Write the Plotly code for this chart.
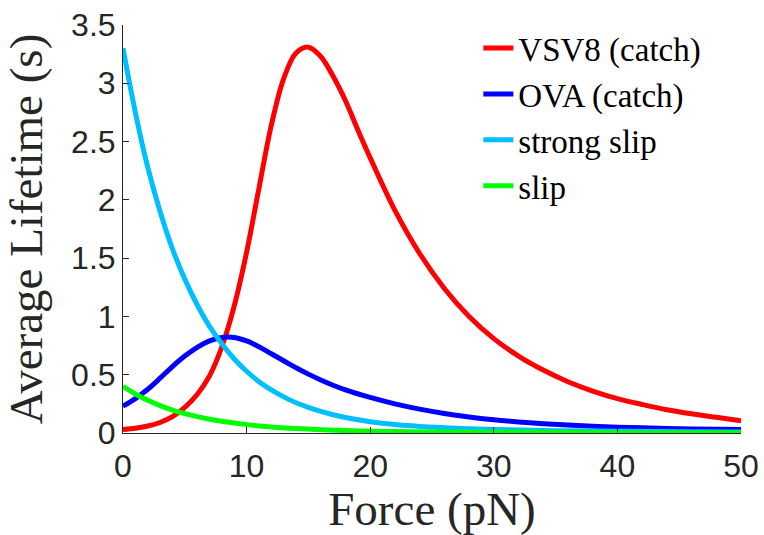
import plotly.graph_objects as go

# Force (pN) sample points and average lifetimes (s)
vsv8_force = [0, 1, 2, 3, 4, 5, 6, 7, 8, 9, 10, 11, 12, 13, 14, 15, 16, 17, 18, 19, 20,
              22, 24, 26, 28, 30, 32, 34, 36, 38, 40, 42, 44, 46, 48, 50]
vsv8_life = [0.03, 0.04, 0.06, 0.09, 0.14, 0.22, 0.33, 0.49, 0.74, 1.09, 1.55, 2.10, 2.64,
             3.04, 3.26, 3.31, 3.23, 3.06, 2.85, 2.60, 2.36, 1.91, 1.54, 1.24, 1.00, 0.81,
             0.66, 0.54, 0.44, 0.36, 0.295, 0.245, 0.20, 0.165, 0.135, 0.105]

ova_force = [0, 1, 2, 3, 4, 5, 6, 7, 8, 9, 10, 11, 12, 13, 14, 15, 16, 17, 18, 20,
             22, 24, 26, 28, 30, 32, 34, 36, 38, 40, 42, 44, 46, 48, 50]
ova_life = [0.23, 0.295, 0.375, 0.47, 0.57, 0.66, 0.735, 0.79, 0.82, 0.82, 0.79, 0.74, 0.68,
            0.62, 0.56, 0.505, 0.455, 0.41, 0.37, 0.305, 0.25, 0.205, 0.168, 0.138, 0.114,
            0.095, 0.08, 0.068, 0.058, 0.05, 0.044, 0.039, 0.035, 0.032, 0.03]

strong_force = [0, 1, 2, 3, 4, 5, 6, 7, 8, 9, 10, 11, 12, 13, 14, 15, 16, 17, 18, 20,
                22, 24, 26, 28, 30, 35, 40, 45, 50]
strong_life = [3.30, 2.75, 2.28, 1.90, 1.58, 1.32, 1.10, 0.915, 0.765, 0.635, 0.53, 0.44,
               0.37, 0.31, 0.26, 0.22, 0.185, 0.157, 0.133, 0.097, 0.072, 0.056, 0.045,
               0.036, 0.03, 0.02, 0.015, 0.011, 0.009]

slip_force = [0, 1, 2, 3, 4, 5, 6, 7, 8, 10, 12, 14, 16, 18, 20, 25, 30, 40, 50]
slip_life = [0.40, 0.335, 0.28, 0.235, 0.197, 0.166, 0.14, 0.118, 0.1, 0.072, 0.052, 0.038,
             0.028, 0.021, 0.016, 0.009, 0.006, 0.003, 0.002]

series_names = ["VSV8 (catch)", "OVA (catch)", "strong slip", "slip"]
series_colors = ["#ff0000", "#0000ff", "#00bfff", "#00ff00"]

x_ticks = [0, 10, 20, 30, 40, 50]
y_ticks = [0, 0.5, 1, 1.5, 2, 2.5, 3, 3.5]
y_tick_labels = ["0", "0.5", "1", "1.5", "2", "2.5", "3", "3.5"]

fig = go.Figure()
for xs, ys, name, color in zip(
    [vsv8_force, ova_force, strong_force, slip_force],
    [vsv8_life, ova_life, strong_life, slip_life],
    series_names, series_colors,
):
    fig.add_trace(go.Scatter(
        x=xs, y=ys, name=name, mode="lines",
        line=dict(color=color, width=5, shape="spline", smoothing=1.0),
    ))

axis_color = "#262626"
tick_font = dict(family="Liberation Sans, Arial, sans-serif", size=32, color=axis_color)
title_font = dict(family="Liberation Serif, Times New Roman, serif", size=47, color=axis_color)

fig.update_layout(
    width=764, height=535,
    margin=dict(l=123, r=23, t=25, b=102),
    paper_bgcolor="white", plot_bgcolor="white",
    showlegend=True,
    legend=dict(
        x=0.575, y=1.012, xanchor="left", yanchor="top",
        bgcolor="rgba(0,0,0,0)", borderwidth=0,
        font=dict(family="Liberation Serif, Times New Roman, serif", size=33, color="black"),
        itemwidth=30, tracegroupgap=0,
    ),
    xaxis=dict(
        range=[0, 50], tickvals=x_ticks, ticks="inside", ticklen=6, tickwidth=1,
        tickcolor=axis_color, showline=True, linecolor=axis_color, linewidth=1,
        showgrid=False, zeroline=False, tickfont=tick_font, automargin=False,
        ticklabelstandoff=5,
        title=dict(text="Force (pN)", font=title_font, standoff=4),
    ),
    yaxis=dict(
        range=[0, 3.5], tickvals=y_ticks, ticktext=y_tick_labels, ticks="inside",
        ticklen=6, tickwidth=1, tickcolor=axis_color, showline=True, linecolor=axis_color,
        linewidth=1, showgrid=False, zeroline=False, tickfont=tick_font, automargin=False,
        title=dict(text="Average Lifetime (s)", font=title_font, standoff=16),
    ),
)

fig.write_html("out.html")
